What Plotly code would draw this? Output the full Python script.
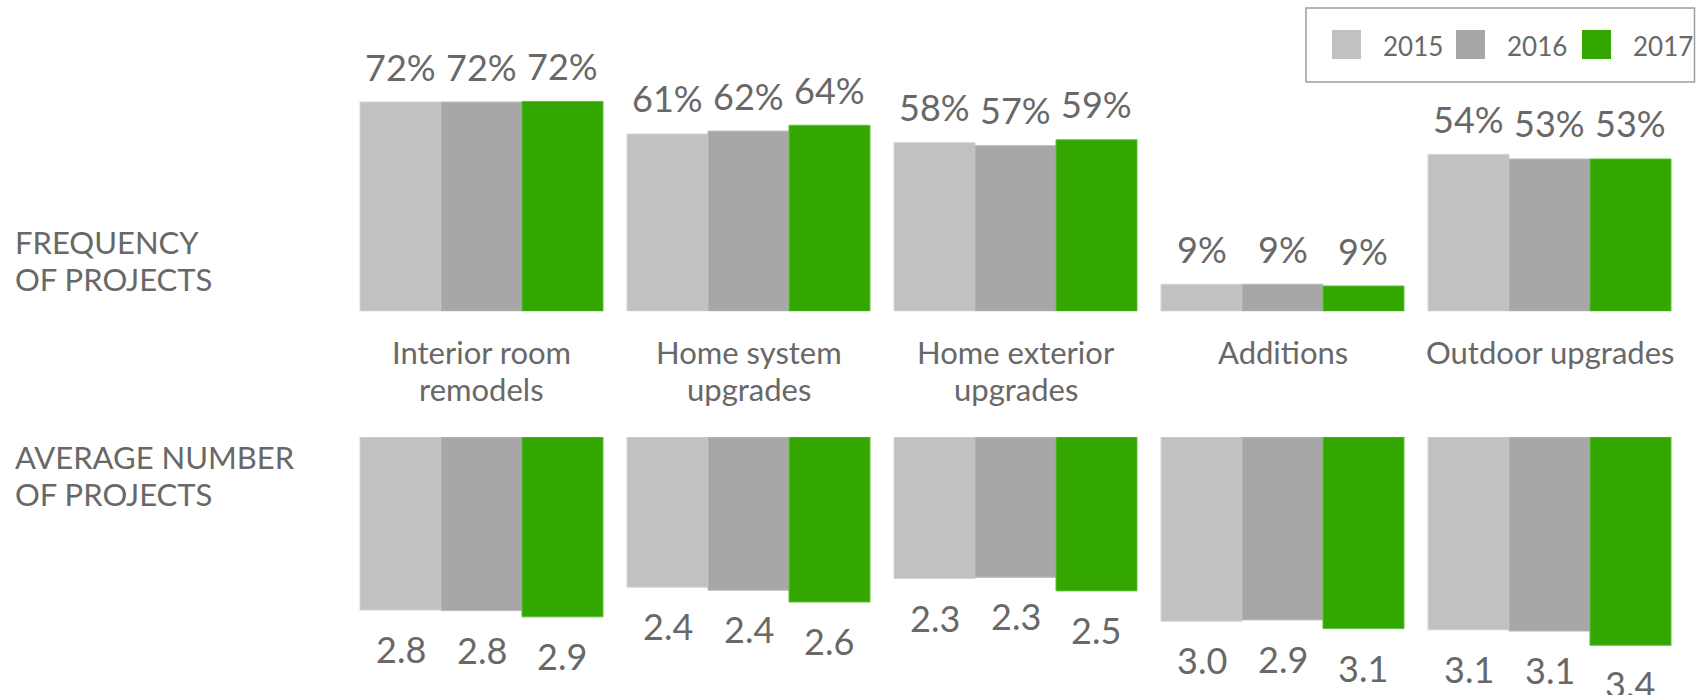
import plotly.graph_objects as go

# ---------------- data ----------------
categories = ["Interior room<br>remodels", "Home system<br>upgrades",
              "Home exterior<br>upgrades", "Additions", "Outdoor upgrades"]
years = ["2015", "2016", "2017"]

freq_2015 = [72.0, 61.0, 58.0, 9.3, 54.0]
freq_2016 = [72.0, 62.0, 57.0, 9.3, 52.4]
freq_2017 = [72.2, 64.0, 59.0, 8.7, 52.4]
freq_labels_2015 = ["72%", "61%", "58%", "9%", "54%"]
freq_labels_2016 = ["72%", "62%", "57%", "9%", "53%"]
freq_labels_2017 = ["72%", "64%", "59%", "9%", "53%"]

avg_2015 = [2.80, 2.43, 2.29, 2.98, 3.12]
avg_2016 = [2.81, 2.48, 2.27, 2.96, 3.14]
avg_2017 = [2.91, 2.67, 2.49, 3.10, 3.37]
avg_labels_2015 = ["2.8", "2.4", "2.3", "3.0", "3.1"]
avg_labels_2016 = ["2.8", "2.4", "2.3", "2.9", "3.1"]
avg_labels_2017 = ["2.9", "2.6", "2.5", "3.1", "3.4"]

row_labels = [["FREQUENCY", "OF PROJECTS"], ["AVERAGE NUMBER", "OF PROJECTS"]]

# ---------------- style / geometry ----------------
W, H = 1696, 695
X0, X1 = 348, 1683
TOP_BASE = 311.3
PX_PER_PCT = 2.907
BOT_TOP = 437
PX_PER_UNIT = 61.8
BARGAP = 0.09
FONT = "Lato, 'Open Sans', sans-serif"
TXT = "#686868"
colors = ["#c1c1c1", "#a7a7a7", "#34a600"]
edges = ["#d4d4d4", "#bcbcbc", "#5cc03a"]

freq = [freq_2015, freq_2016, freq_2017]
freq_lbl = [freq_labels_2015, freq_labels_2016, freq_labels_2017]
avg = [avg_2015, avg_2016, avg_2017]
avg_lbl = [avg_labels_2015, avg_labels_2016, avg_labels_2017]

fig = go.Figure()
for i, yr in enumerate(years):
    fig.add_trace(go.Bar(x=categories, y=freq[i], name=yr, xaxis="x", yaxis="y",
                         marker=dict(color=colors[i], line=dict(color=edges[i], width=1)),
                         showlegend=False, hoverinfo="skip"))
for i, yr in enumerate(years):
    fig.add_trace(go.Bar(x=categories, y=avg[i], name=yr, xaxis="x2", yaxis="y2",
                         marker=dict(color=colors[i], line=dict(color=edges[i], width=1)),
                         showlegend=False, hoverinfo="skip"))

slot_px = (X1 - X0) / len(categories) * (1 - BARGAP) / len(years)

ann = []
for i in range(len(years)):
    shift = (i - 1) * slot_px
    for j, c in enumerate(categories):
        ann.append(dict(x=c, y=freq[i][j], xref="x", yref="y", text=freq_lbl[i][j],
                        showarrow=False, xshift=shift, yshift=35.5, yanchor="middle",
                        font=dict(family=FONT, size=36, color=TXT)))
        ann.append(dict(x=c, y=avg[i][j], xref="x2", yref="y2", text=avg_lbl[i][j],
                        showarrow=False, xshift=shift, yshift=-39, yanchor="middle",
                        font=dict(family=FONT, size=36, color=TXT)))

# category labels
for c in categories:
    for k, line in enumerate(c.split("<br>")):
        ann.append(dict(x=c, y=1 - (352 + 37 * k) / H, xref="x", yref="paper", text=line,
                        showarrow=False, yanchor="middle",
                        font=dict(family=FONT, size=31, color=TXT)))

# row labels
for r, ys in zip(row_labels, [242, 457]):
    for k, line in enumerate(r):
        ann.append(dict(x=13 / W, y=1 - (ys + 36.5 * k) / H, xref="paper", yref="paper",
                        text=line, showarrow=False, xanchor="left", yanchor="middle",
                        font=dict(family=FONT, size=31, color=TXT)))

# custom legend
shapes = [dict(type="rect", xref="paper", yref="paper",
               x0=1306 / W, x1=1694.5 / W, y0=1 - 82 / H, y1=1 - 8 / H,
               line=dict(color="#9e9e9e", width=1.5), fillcolor="rgba(0,0,0,0)")]
sw_x = [1332, 1456, 1582]
for i, yr in enumerate(years):
    shapes.append(dict(type="rect", xref="paper", yref="paper",
                       x0=sw_x[i] / W, x1=(sw_x[i] + 29) / W, y0=1 - 59 / H, y1=1 - 30 / H,
                       line=dict(width=0), fillcolor=colors[i]))
    ann.append(dict(x=(sw_x[i] + 49) / W, y=1 - 46 / H, xref="paper", yref="paper",
                    text=yr, showarrow=False, xanchor="left", yanchor="middle",
                    font=dict(family=FONT, size=26, color=TXT)))

fig.update_layout(
    width=W, height=H, margin=dict(l=0, r=0, t=0, b=0),
    paper_bgcolor="white", plot_bgcolor="white",
    barmode="group", bargap=BARGAP, bargroupgap=0,
    xaxis=dict(domain=[X0 / W, X1 / W], range=[-0.5, 4.5], visible=False, anchor="y"),
    xaxis2=dict(domain=[X0 / W, X1 / W], range=[-0.5, 4.5], visible=False, anchor="y2",
                matches="x"),
    yaxis=dict(domain=[1 - TOP_BASE / H, 1], range=[0, TOP_BASE / PX_PER_PCT],
               visible=False, anchor="x"),
    yaxis2=dict(domain=[0, 1 - BOT_TOP / H], range=[(H - BOT_TOP) / PX_PER_UNIT, 0],
                visible=False, anchor="x2"),
    annotations=ann, shapes=shapes,
)

fig.write_html("out.html", config={"displayModeBar": False},
               post_script="document.body.style.margin='0';"
                           "document.body.style.overflow='hidden';")
